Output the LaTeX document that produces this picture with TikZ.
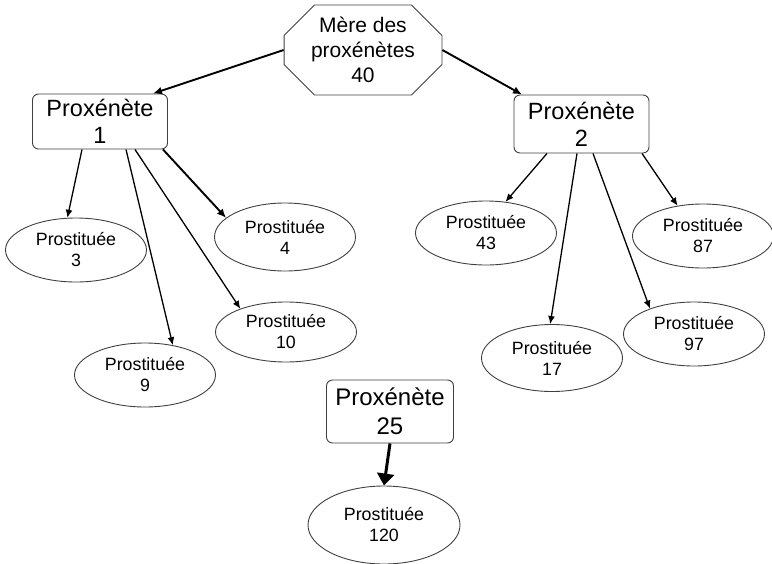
\documentclass[tikz,border=0pt]{standalone}
\usepackage{fontspec}
\setmainfont{Liberation Sans}
\usetikzlibrary{shapes.geometric, shapes.misc, arrows.meta}

\tikzset{
  proxbox/.style={draw=black!75, line width=0.9pt, rounded corners=6pt, align=center, inner sep=0pt,
    minimum width=135pt, minimum height=55pt, font=\fontsize{23.5}{27}\selectfont},
  prost/.style={draw=black!75, line width=0.9pt, ellipse, align=center, inner sep=0pt,
    minimum width=141pt, minimum height=64pt, font=\fontsize{17.8}{21}\selectfont},
  lien/.style={-{Latex[length=8pt,width=7pt]}, line width=1.3pt},
  lienfort/.style={-{Latex[length=9pt,width=8pt]}, line width=1.9pt}
}

\begin{document}
\begin{tikzpicture}[x=1pt, y=-1pt]
\useasboundingbox (0,0) rectangle (772,563);
% les noeuds
\node [chamfered rectangle, chamfered rectangle xsep=27pt, draw=black!75, line width=0.9pt, align=center,
  inner sep=0pt, minimum width=140pt, minimum height=90pt, font=\fontsize{21}{25}\selectfont]
  (mere) at (363,50) {Mère des\\proxénètes\\40};
\node [proxbox] (p1) at (100,121.5) {Proxénète\\1};
\node [proxbox, minimum height=58pt] (p2) at (581.5,124) {Proxénète\\2};
\node [proxbox, minimum width=127pt, minimum height=63pt, font=\fontsize{24}{29}\selectfont] (p25) at (390,411.5) {Proxénète\\25};
\node [prost] (e3) at (76,250) {Prostituée\\3};
\node [prost, minimum height=68pt] (e4) at (285,237) {Prostituée\\4};
\node [prost] (e9) at (145,375) {Prostituée\\9};
\node [prost, minimum height=60pt] (e10) at (286,332) {Prostituée\\10};
\node [prost] (e43) at (486,233) {Prostituée\\43};
\node [prost, minimum height=67pt] (e17) at (552,358) {Prostituée\\17};
\node [prost] (e97) at (694,334) {Prostituée\\97};
\node [prost] (e87) at (703,236) {Prostituée\\87};
\node [prost, minimum width=152pt, minimum height=78pt] (e120) at (384,525) {Prostituée\\120};
% les fleches
\draw [lienfort] (mere.west) -- ([xshift=53pt]p1.north);
\draw [lienfort] (mere.east) -- ([xshift=-59.5pt]p2.north);
\draw [lien] ([xshift=-18pt]p1.south) -- (e3.105);
\draw [lien] ([xshift=26pt]p1.south) -- (e9.47);
\draw [lien] ([xshift=35pt]p1.south) -- (e10.153);
\draw [lienfort] ([xshift=63pt]p1.south) -- (e4.162);
\draw [lien] ([xshift=-34.5pt]p2.south) -- (e43.58);
\draw [lien] ([xshift=-4.5pt]p2.south) -- (e17.93);
\draw [lien] ([xshift=11.5pt]p2.south) -- (e97.150);
\draw [lien] ([xshift=60.5pt]p2.south) -- (e87.130);
\draw [-{Triangle[length=12pt,width=17pt]}, line width=3pt] (p25.south) -- (e120.north);
\end{tikzpicture}
\end{document}
